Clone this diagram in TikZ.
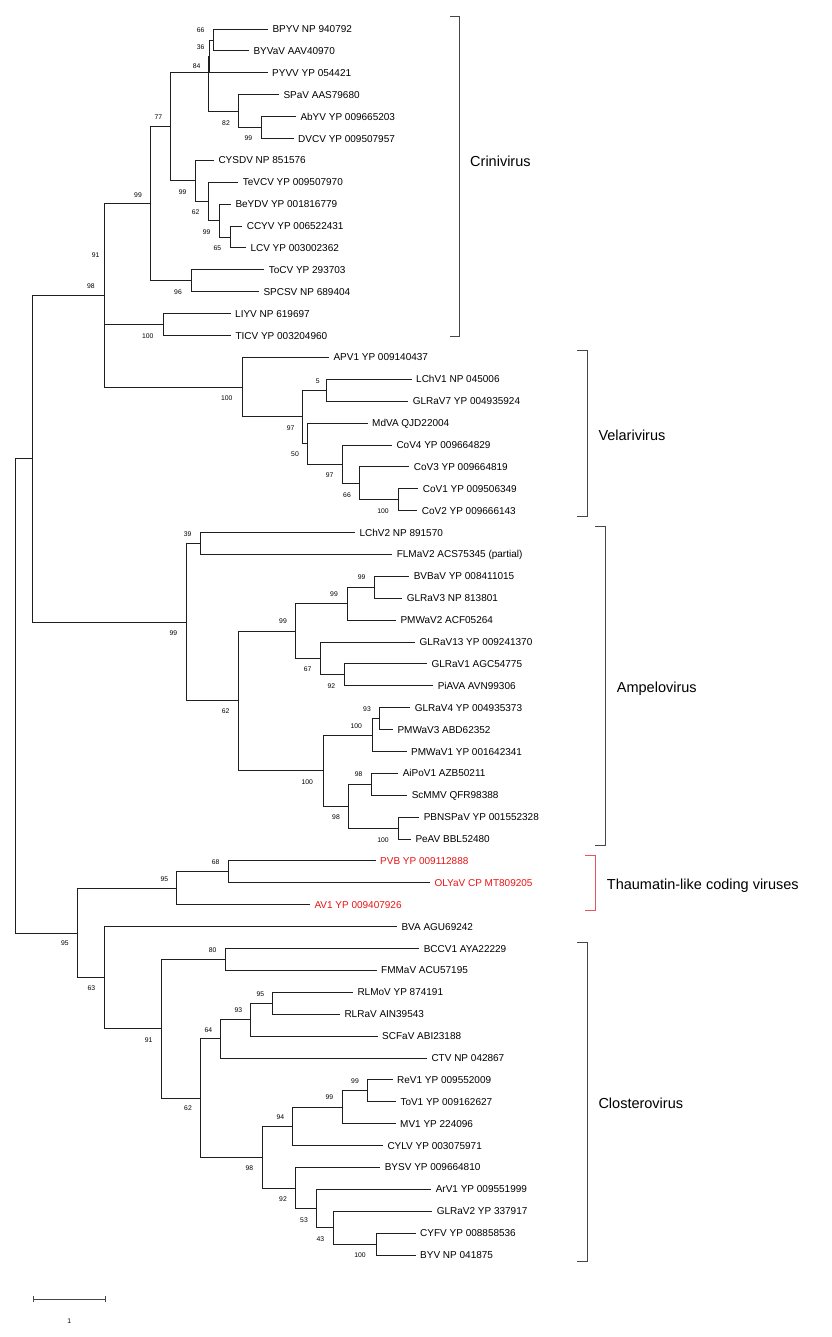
\documentclass[tikz,border=0pt]{standalone}
\usepackage{fontspec}
\setmainfont{Liberation Sans}
\definecolor{tlred}{RGB}{232,20,20}
\definecolor{brred}{RGB}{228,85,95}
\begin{document}
\begin{tikzpicture}[x=1pt,y=-1pt,
  br/.style={line width=0.85pt, draw=black!88},
  leaf/.style={anchor=west, inner xsep=4.3pt, inner ysep=0pt, text height=7.16pt, text depth=0pt, font=\fontsize{10}{12}\selectfont},
  redleaf/.style={leaf, text=tlred},
  bs/.style={inner sep=0pt, text height=4.87pt, text depth=0pt, font=\fontsize{6.8}{8}\selectfont},
  clade/.style={anchor=west, inner sep=0pt, text height=10.4pt, text depth=0pt, font=\fontsize{14.5}{17}\selectfont},
  brk/.style={line width=1.0pt, draw=black!72},
  redbrk/.style={line width=1.0pt, draw=brred}]
\useasboundingbox (0,0) rectangle (831,1337);
% ---------------- leaves ----------------
\node[leaf] (L1) at (268,29.0) {BPYV NP 940792};
\node[leaf] (L2) at (249,50.9) {BYVaV AAV40970};
\node[leaf] (L3) at (267.7,72.8) {PYVV YP 054421};
\node[leaf] (L4) at (279,94.7) {SPaV AAS79680};
\node[leaf] (L5) at (296,116.6) {AbYV YP 009665203};
\node[leaf] (L6) at (293.7,138.5) {DVCV YP 009507957};
\node[leaf] (L7) at (214,160.4) {CYSDV NP 851576};
\node[leaf] (L8) at (238.3,182.3) {TeVCV YP 009507970};
\node[leaf] (L9) at (231,204.1) {BeYDV YP 001816779};
\node[leaf] (L10) at (242.3,226.0) {CCYV YP 006522431};
\node[leaf] (L11) at (246,247.9) {LCV YP 003002362};
\node[leaf] (L12) at (264.3,269.8) {ToCV YP 293703};
\node[leaf] (L13) at (259,291.7) {SPCSV NP 689404};
\node[leaf] (L14) at (230.7,313.6) {LIYV NP 619697};
\node[leaf] (L15) at (231,335.5) {TICV YP 003204960};
\node[leaf] (L16) at (329,357.4) {APV1 YP 009140437};
\node[leaf] (L17) at (411.7,379.3) {LChV1 NP 045006};
\node[leaf] (L18) at (408.3,401.2) {GLRaV7 YP 004935924};
\node[leaf] (L19) at (367.7,423.1) {MdVA QJD22004};
\node[leaf] (L20) at (392,445.0) {CoV4 YP 009664829};
\node[leaf] (L21) at (409.3,466.9) {CoV3 YP 009664819};
\node[leaf] (L22) at (418.3,488.8) {CoV1 YP 009506349};
\node[leaf] (L23) at (417.3,510.6) {CoV2 YP 009666143};
\node[leaf] (L24) at (355,532.5) {LChV2 NP 891570};
\node[leaf] (L25) at (392.3,554.4) {FLMaV2 ACS75345 (partial)};
\node[leaf] (L26) at (409.3,576.3) {BVBaV YP 008411015};
\node[leaf] (L27) at (402.3,598.2) {GLRaV3 NP 813801};
\node[leaf] (L28) at (396,620.1) {PMWaV2 ACF05264};
\node[leaf] (L29) at (415,642.0) {GLRaV13 YP 009241370};
\node[leaf] (L30) at (427,663.9) {GLRaV1 AGC54775};
\node[leaf] (L31) at (433.3,685.8) {PiAVA AVN99306};
\node[leaf] (L32) at (410.3,707.7) {GLRaV4 YP 004935373};
\node[leaf] (L33) at (393,729.6) {PMWaV3 ABD62352};
\node[leaf] (L34) at (406.7,751.5) {PMWaV1 YP 001642341};
\node[leaf] (L35) at (398.3,773.4) {AiPoV1 AZB50211};
\node[leaf] (L36) at (407.3,795.3) {ScMMV QFR98388};
\node[leaf] (L37) at (419.3,817.2) {PBNSPaV YP 001552328};
\node[leaf] (L38) at (411,839.1) {PeAV BBL52480};
\node[redleaf] (L39) at (375.7,860.9) {PVB YP 009112888};
\node[redleaf] (L40) at (430,882.8) {OLYaV CP MT809205};
\node[redleaf] (L41) at (310,904.7) {AV1 YP 009407926};
\node[leaf] (L42) at (397,926.6) {BVA AGU69242};
\node[leaf] (L43) at (419.3,948.5) {BCCV1 AYA22229};
\node[leaf] (L44) at (376.7,970.4) {FMMaV ACU57195};
\node[leaf] (L45) at (353,992.3) {RLMoV YP 874191};
\node[leaf] (L46) at (340,1014.2) {RLRaV AIN39543};
\node[leaf] (L47) at (377.7,1036.1) {SCFaV ABI23188};
\node[leaf] (L48) at (427,1058.0) {CTV NP 042867};
\node[leaf] (L49) at (392.7,1079.9) {ReV1 YP 009552009};
\node[leaf] (L50) at (396,1101.8) {ToV1 YP 009162627};
\node[leaf] (L51) at (395.7,1123.7) {MV1 YP 224096};
\node[leaf] (L52) at (383,1145.6) {CYLV YP 003075971};
\node[leaf] (L53) at (380.3,1167.4) {BYSV YP 009664810};
\node[leaf] (L54) at (431.3,1189.3) {ArV1 YP 009551999};
\node[leaf] (L55) at (432.3,1211.2) {GLRaV2 YP 337917};
\node[leaf] (L56) at (415.7,1233.1) {CYFV YP 008858536};
\node[leaf] (L57) at (415.7,1255.0) {BYV NP 041875};
% ---------------- internal nodes ----------------
\coordinate (a1) at (213.3,40.0);
\coordinate (a2) at (209.2,56.4);
\coordinate (a4) at (261,127.6);
\coordinate (a3) at (238.3,111.1);
\coordinate (a5) at (208.7,72.8);
\coordinate (a10) at (230,237.0);
\coordinate (a9) at (219,220.5);
\coordinate (a8) at (208,201.4);
\coordinate (a7) at (195,180.9);
\coordinate (a6) at (170.7,126.9);
\coordinate (a11) at (191,280.7);
\coordinate (a12) at (150.7,203.8);
\coordinate (a13) at (163,324.5);
\coordinate (a14) at (104.8,264.5);
\coordinate (v1) at (326.3,390.2);
\coordinate (v2) at (398.7,499.7);
\coordinate (v3) at (359.3,483.3);
\coordinate (v4) at (342.3,464.2);
\coordinate (v5) at (307.3,443.6);
\coordinate (v6) at (302.7,416.9);
\coordinate (v7) at (242.3,387.1);
\coordinate (a15) at (104.3,295.0);
\coordinate (m1) at (200,543.5);
\coordinate (m2) at (374.3,587.3);
\coordinate (m3) at (347,603.7);
\coordinate (m4) at (344,674.9);
\coordinate (m5) at (320.3,658.4);
\coordinate (m6) at (295.7,631.0);
\coordinate (m7) at (379.7,718.7);
\coordinate (m8) at (372.7,735.1);
\coordinate (m9) at (371.7,784.4);
\coordinate (m10) at (398.3,828.2);
\coordinate (m11) at (348.3,806.3);
\coordinate (m12) at (323,770.7);
\coordinate (m13) at (238,700.9);
\coordinate (m14) at (186,622.2);
\coordinate (r1) at (32.7,458.6);
\coordinate (t1) at (228.3,871.9);
\coordinate (t2) at (176.7,888.3);
\coordinate (c1) at (225.7,959.5);
\coordinate (c2) at (272.7,1003.3);
\coordinate (c3) at (250.7,1019.7);
\coordinate (c4) at (220.7,1038.9);
\coordinate (c5) at (367.7,1090.9);
\coordinate (c6) at (342.3,1107.3);
\coordinate (c7) at (292.7,1126.5);
\coordinate (c8) at (376,1244.1);
\coordinate (c9) at (333,1227.7);
\coordinate (c10) at (316.3,1208.5);
\coordinate (c11) at (295.7,1188.0);
\coordinate (c12) at (262,1157.3);
\coordinate (c13) at (200.7,1098.1);
\coordinate (c14) at (161.3,1028.8);
\coordinate (c15) at (104.3,977.7);
\coordinate (c16) at (77.7,933.0);
\coordinate (root) at (15.7,695.8);
% ---------------- branches ----------------
\draw[br] (a1) |- (L1.west) (a1) |- (L2.west);
\draw[br] (a2) |- (a1) (a2) |- (L3.west);
\draw[br] (a4) |- (L5.west) (a4) |- (L6.west);
\draw[br] (a3) |- (L4.west) (a3) |- (a4);
\draw[br] (a5) |- (a2) (a5) |- (a3);
\draw[br] (a10) |- (L10.west) (a10) |- (L11.west);
\draw[br] (a9) |- (L9.west) (a9) |- (a10);
\draw[br] (a8) |- (L8.west) (a8) |- (a9);
\draw[br] (a7) |- (L7.west) (a7) |- (a8);
\draw[br] (a6) |- (a5) (a6) |- (a7);
\draw[br] (a11) |- (L12.west) (a11) |- (L13.west);
\draw[br] (a12) |- (a6) (a12) |- (a11);
\draw[br] (a13) |- (L14.west) (a13) |- (L15.west);
\draw[br] (a14) |- (a12) (a14) |- (a13);
\draw[br] (v1) |- (L17.west) (v1) |- (L18.west);
\draw[br] (v2) |- (L22.west) (v2) |- (L23.west);
\draw[br] (v3) |- (L21.west) (v3) |- (v2);
\draw[br] (v4) |- (L20.west) (v4) |- (v3);
\draw[br] (v5) |- (L19.west) (v5) |- (v4);
\draw[br] (v6) |- (v1) (v6) |- (v5);
\draw[br] (v7) |- (L16.west) (v7) |- (v6);
\draw[br] (a15) |- (a12) (a15) |- (v7);
\draw[br] (m1) |- (L24.west) (m1) |- (L25.west);
\draw[br] (m2) |- (L26.west) (m2) |- (L27.west);
\draw[br] (m3) |- (m2) (m3) |- (L28.west);
\draw[br] (m4) |- (L30.west) (m4) |- (L31.west);
\draw[br] (m5) |- (L29.west) (m5) |- (m4);
\draw[br] (m6) |- (m3) (m6) |- (m5);
\draw[br] (m7) |- (L32.west) (m7) |- (L33.west);
\draw[br] (m8) |- (m7) (m8) |- (L34.west);
\draw[br] (m9) |- (L35.west) (m9) |- (L36.west);
\draw[br] (m10) |- (L37.west) (m10) |- (L38.west);
\draw[br] (m11) |- (m9) (m11) |- (m10);
\draw[br] (m12) |- (m8) (m12) |- (m11);
\draw[br] (m13) |- (m6) (m13) |- (m12);
\draw[br] (m14) |- (m1) (m14) |- (m13);
\draw[br] (r1) |- (a15) (r1) |- (m14);
\draw[br] (t1) |- (L39.west) (t1) |- (L40.west);
\draw[br] (t2) |- (t1) (t2) |- (L41.west);
\draw[br] (c1) |- (L43.west) (c1) |- (L44.west);
\draw[br] (c2) |- (L45.west) (c2) |- (L46.west);
\draw[br] (c3) |- (c2) (c3) |- (L47.west);
\draw[br] (c4) |- (c3) (c4) |- (L48.west);
\draw[br] (c5) |- (L49.west) (c5) |- (L50.west);
\draw[br] (c6) |- (c5) (c6) |- (L51.west);
\draw[br] (c7) |- (c6) (c7) |- (L52.west);
\draw[br] (c8) |- (L56.west) (c8) |- (L57.west);
\draw[br] (c9) |- (L55.west) (c9) |- (c8);
\draw[br] (c10) |- (L54.west) (c10) |- (c9);
\draw[br] (c11) |- (L53.west) (c11) |- (c10);
\draw[br] (c12) |- (c7) (c12) |- (c11);
\draw[br] (c13) |- (c4) (c13) |- (c12);
\draw[br] (c14) |- (c1) (c14) |- (c13);
\draw[br] (c15) |- (L42.west) (c15) |- (c14);
\draw[br] (c16) |- (t2) (c16) |- (c15);
\draw[br] (root) |- (r1) (root) |- (c16);
% ---------------- bootstrap values ----------------
\node[bs] (b1) at (200.7,30) {66};
\node[bs] (b2) at (200.7,46.7) {36};
\node[bs] (b3) at (196.7,65.7) {84};
\node[bs] (b4) at (226,122.7) {82};
\node[bs] (b5) at (248.3,138.3) {99};
\node[bs] (b6) at (158.3,117.3) {77};
\node[bs] (b7) at (182.7,191.7) {99};
\node[bs] (b8) at (195.7,212.3) {62};
\node[bs] (b9) at (206.7,232) {99};
\node[bs] (b10) at (217.3,248) {65};
\node[bs] (b11) at (138,194.7) {99};
\node[bs] (b12) at (95.7,254.7) {91};
\node[bs] (b13) at (91,285.7) {98};
\node[bs] (b14) at (178,292.3) {96};
\node[bs] (b15) at (147.7,336) {100};
\node[bs] (b16) at (226.7,398) {100};
\node[bs] (b17) at (317.7,380.7) {5};
\node[bs] (b18) at (290.7,428) {97};
\node[bs] (b19) at (295,454.3) {50};
\node[bs] (b20) at (329.7,475) {97};
\node[bs] (b21) at (347,494.7) {66};
\node[bs] (b22) at (383,511.3) {100};
\node[bs] (b23) at (187.7,534.3) {39};
\node[bs] (b24) at (173.3,633) {99};
\node[bs] (b25) at (283,621.3) {99};
\node[bs] (b26) at (334,594.3) {99};
\node[bs] (b27) at (361.7,577.3) {99};
\node[bs] (b28) at (307.7,669.3) {67};
\node[bs] (b29) at (331.3,686) {92};
\node[bs] (b30) at (225.7,711.3) {62};
\node[bs] (b31) at (307.3,782) {100};
\node[bs] (b32) at (356.3,725.7) {100};
\node[bs] (b33) at (367,709) {93};
\node[bs] (b34) at (336,817.3) {98};
\node[bs] (b35) at (358.7,774.3) {98};
\node[bs] (b36) at (383,839.7) {100};
\node[bs] (b37) at (215.7,862.3) {68};
\node[bs] (b38) at (164.3,878.7) {95};
\node[bs] (b39) at (65,943) {95};
\node[bs] (b40) at (91.3,988) {63};
\node[bs] (b41) at (148.7,1039.7) {91};
\node[bs] (b42) at (212.7,950.3) {80};
\node[bs] (b43) at (260.3,993.7) {95};
\node[bs] (b44) at (238.3,1010.3) {93};
\node[bs] (b45) at (208.3,1029.7) {64};
\node[bs] (b46) at (188,1108.3) {62};
\node[bs] (b47) at (249.3,1168) {98};
\node[bs] (b48) at (280.3,1117) {94};
\node[bs] (b49) at (329.3,1097.3) {99};
\node[bs] (b50) at (355,1081) {99};
\node[bs] (b51) at (283,1199) {92};
\node[bs] (b52) at (304,1220) {53};
\node[bs] (b53) at (320.3,1239) {43};
\node[bs] (b54) at (360,1255.3) {100};
% ---------------- clade brackets ----------------
\coordinate (k1a) at (450,16.7); \coordinate (k1b) at (450,336);
\draw[brk] (k1a) -- ++(9.3,0) |- (k1b);
\node[clade] (K1) at (470,161) {Crinivirus};
\coordinate (k2a) at (577,350.7); \coordinate (k2b) at (577,516.7);
\draw[brk] (k2a) -- ++(10,0) |- (k2b);
\node[clade] (K2) at (598.3,435) {Velarivirus};
\coordinate (k3a) at (595.3,526); \coordinate (k3b) at (595.3,845.3);
\draw[brk] (k3a) -- ++(10,0) |- (k3b);
\node[clade] (K3) at (616.7,687) {Ampelovirus};
\coordinate (k4a) at (585.3,855); \coordinate (k4b) at (585.3,910.7);
\draw[redbrk] (k4a) -- ++(9.7,0) |- (k4b);
\node[clade] (K4) at (606.7,884) {Thaumatin-like coding viruses};
\coordinate (k5a) at (577.3,942); \coordinate (k5b) at (577.3,1261);
\draw[brk] (k5a) -- ++(10,0) |- (k5b);
\node[clade] (K5) at (598.3,1103) {Closterovirus};
% ---------------- scale bar ----------------
\coordinate (s1) at (33.7,1299); \coordinate (s2) at (105.7,1299);
\draw[brk, line width=0.9pt] (s1) -- (s2);
\draw[brk, line width=0.9pt] ([yshift=-3.3pt]s1) -- ([yshift=3.3pt]s1);
\draw[brk, line width=0.9pt] ([yshift=-3.3pt]s2) -- ([yshift=3.3pt]s2);
\node[bs] (sl) at (69.3,1321.3) {1};
\end{tikzpicture}
\end{document}
